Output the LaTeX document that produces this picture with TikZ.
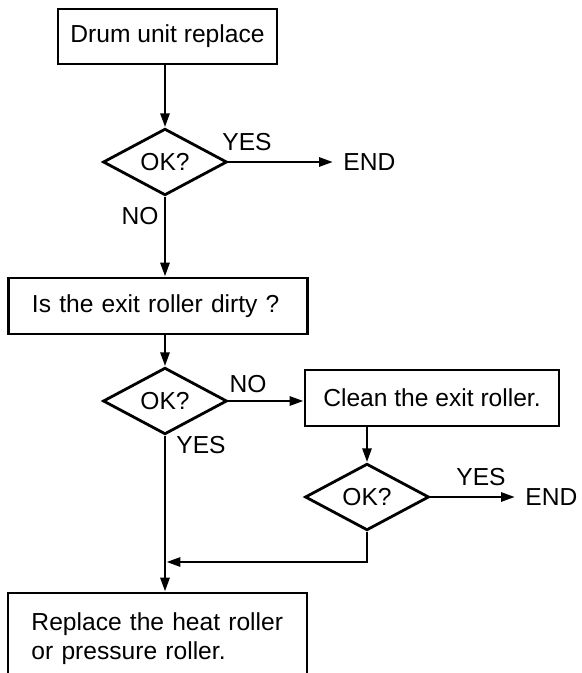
\documentclass[tikz,border=0pt]{standalone}
\usepackage{fontspec}
\setmainfont{Liberation Sans}
\usetikzlibrary{shapes.geometric,arrows.meta}

\begin{document}
\begin{tikzpicture}[
					x=0.5pt,y=-0.5pt,
					fbox/.style={draw,line width=1.4pt,inner sep=0pt,font=\fontsize{12.3}{14.5}\selectfont},
					lbox/.style={fbox,align=left,inner xsep=11.75pt,text width=126pt},
					okdia/.style={draw,diamond,line width=1.4pt,inner sep=0pt,minimum width=62pt,minimum height=27pt,font=\fontsize{12.3}{14.5}\selectfont},
					lbl/.style={inner sep=0pt,font=\fontsize{12.3}{14.5}\selectfont},
					endlbl/.style={lbl,inner xsep=5pt},
					flow/.style={line width=1.4pt,-{Triangle[length=7pt,width=4.5pt]}}
					]
					\clip (0,0) rectangle (582,673);
					% boxes and decisions
					\node[fbox,minimum width=109.5pt,minimum height=27.5pt] (drum) at (167.5,36.5) {Drum unit replace};
					\node[okdia] (ok1) at (165,162) {OK?};
					\node[lbox,minimum height=28pt] (dirty) at (158,306) {Is the exit roller dirty ?};
					\node[okdia] (ok2) at (165,401) {OK?};
					\node[fbox,minimum width=127pt,minimum height=28pt] (clean) at (432,398) {Clean the exit roller.};
					\node[okdia] (ok3) at (367,497) {OK?};
					\node[lbox,minimum height=45.5pt] (heat) at (157.5,638.5) {Replace the heat roller\\or pressure roller.};
					\node[endlbl,anchor=west] (end1) at (333,162) {END};
					\node[endlbl,anchor=west] (end2) at (515,497) {END};
					\coordinate (join) at (165,562);
					% labels
					\node[lbl] (yes1) at (247,142) {YES};
					\node[lbl] (no1) at (140,216) {NO};
					\node[lbl] (no2) at (248,384) {NO};
					\node[lbl] (yes2) at (201,445) {YES};
					\node[lbl] (yes3) at (481,477) {YES};
					% connectors
					\draw[flow] (ok1 |- drum.south) -- (ok1.north);
					\draw[flow] (ok1.east) -- (ok1.east -| end1.west);
					\draw[flow] (ok1.south) -- (ok1 |- dirty.north);
					\draw[flow] (ok2 |- dirty.south) -- (ok2.north);
					\draw[flow] (ok2.east) -- (ok2.east -| clean.west);
					\draw[flow] (ok3 |- clean.south) -- (ok3.north);
					\draw[flow] (ok3.east) -- (ok3.east -| end2.west);
					\draw[flow,shorten >=0.7pt] (ok3.south) |- (join);
					\draw[flow] (ok2.south) -- (ok2 |- heat.north);
				\end{tikzpicture}
\end{document}
